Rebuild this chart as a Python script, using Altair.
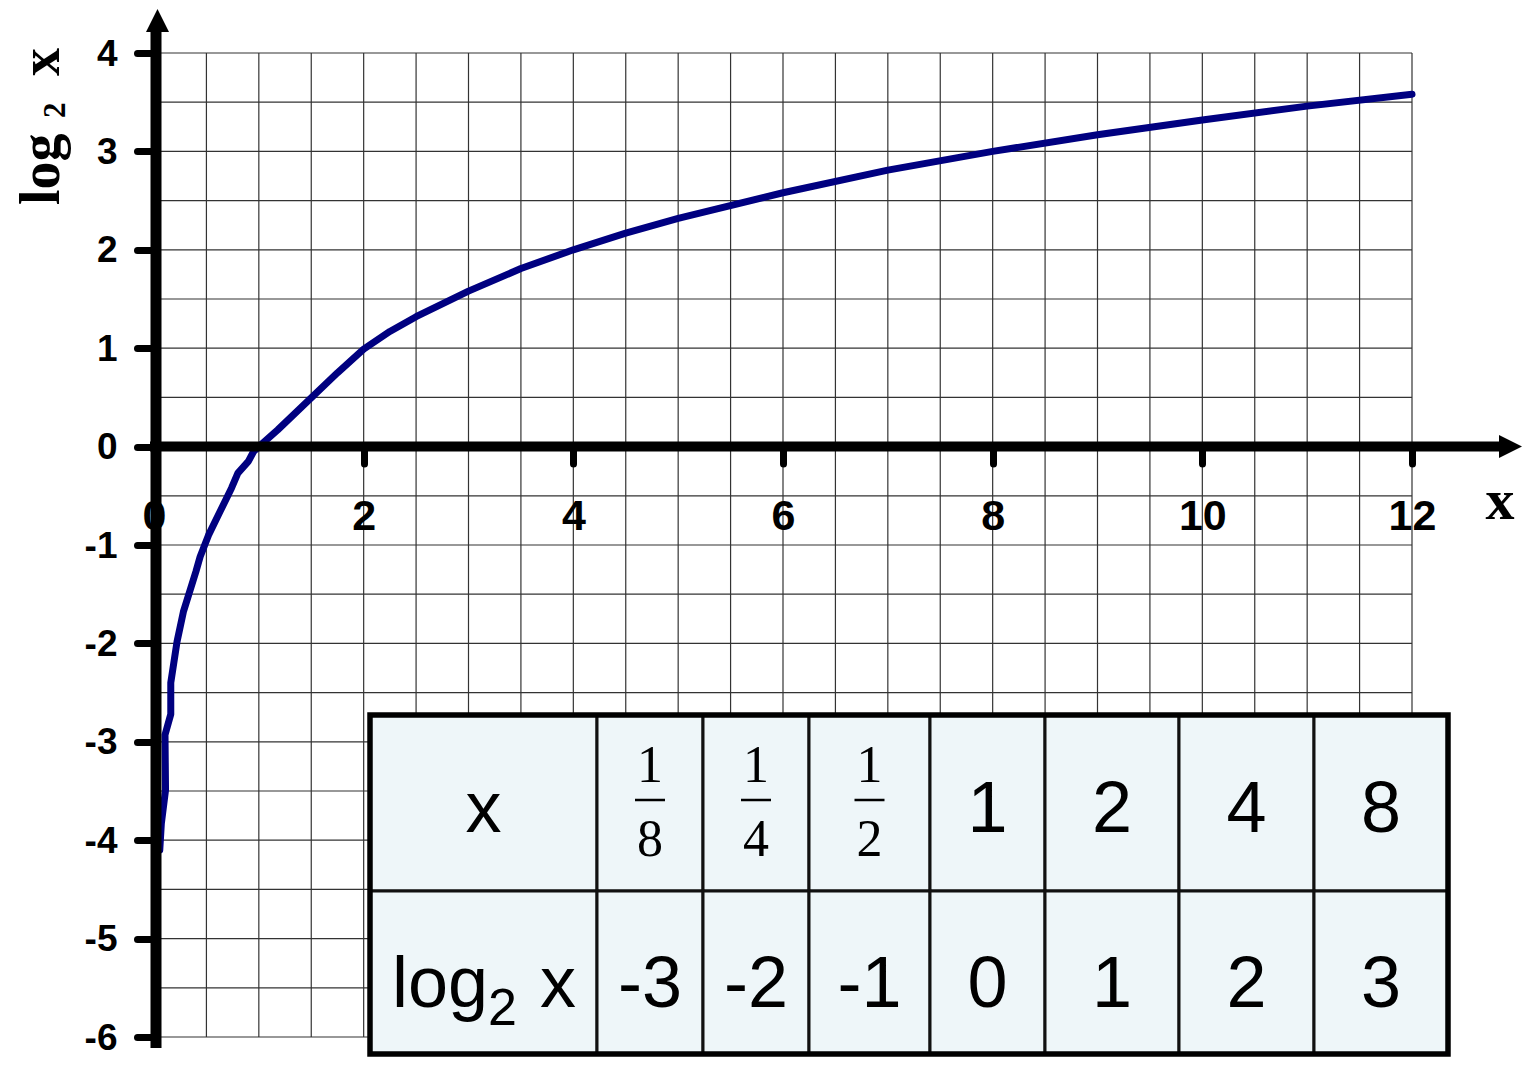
import altair as alt
import pandas as pd

# ---------------- data ----------------
curve_x = [0.055, 0.07, 0.11, 0.105, 0.16, 0.16, 0.22, 0.28, 0.4, 0.44, 0.52, 0.63,
           0.74, 0.8, 0.9, 0.95, 1.0, 1.18, 1.75, 2.0, 2.25, 2.5, 3.0, 3.5, 4.0,
           4.5, 5.0, 6.0, 7.0, 8.0, 9.0, 10.0, 11.0, 12.0]
curve_y = [-4.1, -3.83, -3.49, -2.93, -2.72, -2.4, -1.98, -1.68, -1.27, -1.12, -0.9, -0.66,
           -0.42, -0.27, -0.15, -0.05, 0.0, 0.17, 0.75, 0.99, 1.17, 1.32, 1.58, 1.81, 2.0,
           2.17, 2.32, 2.58, 2.81, 3.0, 3.17, 3.32, 3.46, 3.58]
x_ticks = [0, 2, 4, 6, 8, 10, 12]
y_ticks = [-6, -5, -4, -3, -2, -1, 0, 1, 2, 3, 4]
grid_x = [0.5, 1, 1.5, 2, 2.5, 3, 3.5, 4, 4.5, 5, 5.5, 6, 6.5, 7, 7.5, 8, 8.5, 9,
          9.5, 10, 10.5, 11, 11.5, 12]
grid_y = [-6, -5.5, -5, -4.5, -4, -3.5, -3, -2.5, -2, -1.5, -1, -0.5, 0, 0.5, 1,
          1.5, 2, 2.5, 3, 3.5, 4]
table_x_row = ["x", "1/8", "1/4", "1/2", "1", "2", "4", "8"]
table_log_row = ["log2 x", "-3", "-2", "-1", "0", "1", "2", "3"]
axis_title = ("log", "2", "x")
x_title = "x"

# ---------------- layout ----------------
W, H = 1258, 984
PL, PT, PR, PB = 146, 45, 112, 20
X0, Y0 = 8 + PL, 8 + PT          # page position of the plot origin
XU, YU = W / 12.0, H / 10.0


def dx(px):
    return (px - X0) / XU


def dy(py):
    return 4 - (py - Y0) / YU


def vx(px):
    return px - X0


def vy(py):
    return py - Y0


xs = alt.Scale(domain=[0, 12], nice=False, zero=False)
ys = alt.Scale(domain=[-6, 4], nice=False, zero=False)
SANS = "Liberation Sans"
SERIF = "Liberation Serif"

x_axis = alt.Axis(values=x_ticks, orient="bottom", offset=-(H * 0.6), domain=False,
                  grid=False, ticks=True, tickSize=17, tickWidth=7, tickCap="round",
                  tickColor="black", labels=True,
                  labelFont=SANS, labelFontWeight="bold", labelFontSize=43,
                  labelColor="black", labelPadding=32, labelFlush=False,
                  labelOverlap=False, labelExpr="'' + datum.value", title=None, zindex=1)
y_axis = alt.Axis(values=y_ticks, orient="left", domain=False, grid=False,
                  ticks=True, tickSize=17, tickWidth=7, tickCap="round", tickColor="black",
                  labels=True, labelFont=SANS, labelFontWeight="bold", labelFontSize=37,
                  labelColor="black", labelPadding=20, labelOffset=1, labelFlush=False,
                  labelOverlap=False, labelExpr="'' + datum.value", title=None, zindex=1)


def X(field):
    return alt.X(field, scale=xs, axis=x_axis)


def Y(field):
    return alt.Y(field, scale=ys, axis=y_axis)


# ---------------- grid ----------------
vgrid = alt.Chart(pd.DataFrame({"gx": grid_x})).mark_rule(
    color="#333333", strokeWidth=1.2).encode(
    x=X("gx:Q"), y=alt.value(0), y2=alt.value(H))
hgrid = alt.Chart(pd.DataFrame({"gy": grid_y})).mark_rule(
    color="#333333", strokeWidth=1.2).encode(
    y=Y("gy:Q"), x=alt.value(0), x2=alt.value(W))

# ---------------- curve ----------------
curve_df = pd.DataFrame({"x": curve_x, "y": curve_y, "i": list(range(len(curve_x)))})
curve = alt.Chart(curve_df).mark_line(
    color="#000080", strokeWidth=7, strokeJoin="round", strokeCap="round").encode(
    x=X("x:Q"), y=Y("y:Q"), order="i:Q")

# ---------------- axis shafts and arrows ----------------
one = pd.DataFrame({"k": [0]})
y_shaft = alt.Chart(one).mark_rule(color="black", strokeWidth=11, strokeCap="butt").encode(
    x=alt.value(vx(156)), y=alt.value(vy(1048)), y2=alt.value(vy(30)))
x_shaft = alt.Chart(one).mark_rule(color="black", strokeWidth=10, strokeCap="butt").encode(
    y=alt.value(H * 0.4), x=alt.value(vx(150)), x2=alt.value(vx(1502)))
UP = "M0,-1L1,1L-1,1Z"
RIGHT = "M1,0L-1,-1L-1,1Z"
up_arrow = alt.Chart(one).mark_point(shape=UP, size=529, filled=True, color="black",
                                     opacity=1, strokeWidth=0).encode(
    x=alt.value(vx(157.5)), y=alt.value(vy(20.5)))
right_arrow = alt.Chart(one).mark_point(shape=RIGHT, size=529, filled=True, color="black",
                                        opacity=1, strokeWidth=0).encode(
    x=alt.value(vx(1510.5)), y=alt.value(H * 0.4))


# ---------------- axis titles ----------------
def text_at(txt, px, py, **kw):
    return alt.Chart(pd.DataFrame({"t": [txt]})).mark_text(**kw).encode(
        text="t:N", x=alt.value(vx(px)), y=alt.value(vy(py)))


t_log = text_at(axis_title[0], 59, 205, font=SERIF, fontWeight="bold", fontSize=56,
                angle=270, align="left", baseline="alphabetic", color="black")
t_sub = text_at(axis_title[1], 65, 118, font=SERIF, fontWeight="bold", fontSize=31,
                angle=270, align="left", baseline="alphabetic", color="black")
t_x = text_at(axis_title[2], 59, 76, font=SERIF, fontWeight="bold", fontSize=56,
              angle=270, align="left", baseline="alphabetic", color="black")
t_xaxis = text_at(x_title, 1500, 519, font=SERIF, fontWeight="bold", fontSize=58,
                  align="center", baseline="alphabetic", color="black")

# ---------------- table ----------------
col_px = [370, 597, 703, 809, 930, 1045, 1179, 1314, 1448]
row_px = [715, 891, 1054]
rows = [table_x_row, table_log_row]

cells = []
for r in range(2):
    for c in range(8):
        cells.append({"x1": dx(col_px[c]), "x2": dx(col_px[c + 1]),
                      "y1": dy(row_px[r]), "y2": dy(row_px[r + 1])})
cells_df = pd.DataFrame(cells)
cell_rects = alt.Chart(cells_df).mark_rect(fill="#EEF6F9", stroke="#111111",
                                           strokeWidth=3).encode(
    x=X("x1:Q"), x2="x2:Q", y=Y("y1:Q"), y2="y2:Q")
outer = alt.Chart(one).mark_rect(filled=False, fill=None, stroke="black",
                                 strokeWidth=5.5).encode(
    x=alt.value(vx(370)), x2=alt.value(vx(1448)),
    y=alt.value(vy(715)), y2=alt.value(vy(1054)))

plain, nums, dens, fr_lines = [], [], [], []
baselines = [832, 1007]
for r, row in enumerate(rows):
    for c, val in enumerate(row):
        cx = (col_px[c] + col_px[c + 1]) / 2.0
        if "/" in val:
            n, d = val.split("/")
            nums.append({"t": n, "x": dx(cx), "y": dy(782)})
            dens.append({"t": d, "x": dx(cx), "y": dy(856)})
            fr_lines.append({"x1": dx(cx - 15), "x2": dx(cx + 15), "y": dy(800)})
        elif val.startswith("log"):
            pass
        else:
            plain.append({"t": val, "x": dx(cx), "y": dy(baselines[r])})


def text_layer(rows_, size, font, align="center"):
    return alt.Chart(pd.DataFrame(rows_)).mark_text(
        font=font, fontSize=size, align=align, baseline="alphabetic", color="black").encode(
        text="t:N", x=X("x:Q"), y=Y("y:Q"))


plain_txt = text_layer(plain, 72, SANS)
num_txt = text_layer(nums, 52, SERIF)
den_txt = text_layer(dens, 52, SERIF)
frac_rules = alt.Chart(pd.DataFrame(fr_lines)).mark_rule(color="black", strokeWidth=2.5).encode(
    x=X("x1:Q"), x2="x2:Q", y=Y("y:Q"))

lg = table_log_row[0]               # "log2 x"
lg_base, lg_sub, lg_var = lg[:3], lg[3], lg[5:]
log_parts = text_layer([{"t": lg_base, "x": dx(392), "y": dy(1007)},
                        {"t": lg_var, "x": dx(540), "y": dy(1007)}], 72, SANS, align="left")
log_sub = text_layer([{"t": lg_sub, "x": dx(488), "y": dy(1025)}], 52, SANS, align="left")

chart = alt.layer(
    vgrid, hgrid, curve, y_shaft, x_shaft, up_arrow, right_arrow,
    t_log, t_sub, t_x, t_xaxis,
    cell_rects, outer, plain_txt, num_txt, den_txt, frac_rules, log_parts, log_sub,
).properties(
    width=W, height=H,
    padding={"left": PL, "top": PT, "right": PR, "bottom": PB},
    autosize=alt.AutoSizeParams(type="none"),
    background="white",
).configure_view(stroke=None)

chart.save("out.html", embed_options={"renderer": "svg", "actions": False})
